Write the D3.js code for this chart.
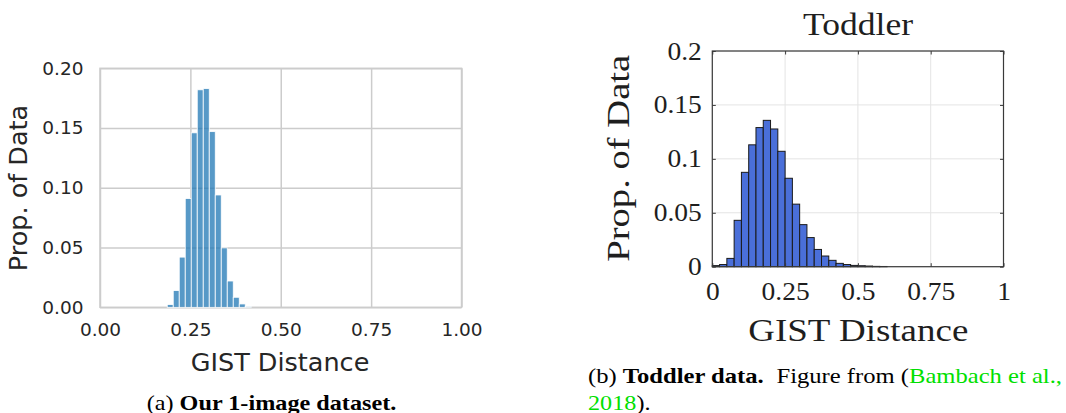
<!DOCTYPE html>
<html>
<head>
<meta charset="utf-8">
<script src="https://cdn.jsdelivr.net/npm/d3@7"></script>
<style>
  html, body { margin: 0; padding: 0; background: #fff; }
  svg { display: block; }
</style>
</head>
<body>
<svg id="fig" width="1066" height="413"></svg>
<script>
// ---- (a) our 1-image dataset (seaborn style histogram) ----
const edgesA = [0.186, 0.2026, 0.2192, 0.2358, 0.2524, 0.269, 0.2856, 0.3022,
                0.3188, 0.3354, 0.352, 0.3686, 0.3852, 0.4018, 0.4184];
const propA = [0.0023, 0.014, 0.042, 0.091, 0.146, 0.182, 0.183, 0.147,
               0.094, 0.0497, 0.022, 0.0084, 0.0028, 0.0008];
const xTicksA = [0, 0.25, 0.5, 0.75, 1];
const xLabelsA = ["0.00", "0.25", "0.50", "0.75", "1.00"];
const yTicksA = [0, 0.05, 0.1, 0.15, 0.2];
const yLabelsA = ["0.00", "0.05", "0.10", "0.15", "0.20"];

// ---- (b) toddler data (matlab style histogram) ----
const edgesB = [0, 0.025, 0.05, 0.075, 0.1, 0.125, 0.15, 0.175, 0.2, 0.225, 0.25,
                0.275, 0.3, 0.325, 0.35, 0.375, 0.4, 0.425, 0.45, 0.475, 0.5,
                0.525, 0.55, 0.575, 0.6];
const propB = [0.001, 0.002, 0.0077, 0.043, 0.0875, 0.113, 0.129, 0.1357,
               0.1277, 0.107, 0.082, 0.058, 0.039, 0.027, 0.016, 0.0099,
               0.0059, 0.0031, 0.002, 0.0012, 0.0009, 0.0006, 0.0003, 0.0002];
const xTicksB = [0, 0.25, 0.5, 0.75, 1];
const xLabelsB = ["0", "0.25", "0.5", "0.75", "1"];
const yTicksB = [0, 0.05, 0.1, 0.15, 0.2];
const yLabelsB = ["0", "0.05", "0.1", "0.15", "0.2"];

const svg = d3.select("#fig");
svg.append("rect").attr("width", 1066).attr("height", 413).attr("fill", "#fff");

const sans = "'DejaVu Sans', sans-serif";
const serif = "'Liberation Serif', 'Times New Roman', serif";

// widen serif text a bit so it looks closer to the wider original
function stretch(sel, k) {
    sel.each(function() {
        const w = this.getComputedTextLength();
        d3.select(this).attr("textLength", w * k).attr("lengthAdjust", "spacingAndGlyphs");
    });
}

/* ================= panel (a) ================= */
const xA = d3.scaleLinear().domain([0, 1]).range([100, 461.5]);
const yA = d3.scaleLinear().domain([0, 0.2]).range([307.3, 68.3]);
const gA = svg.append("g");

// grid + tick labels through the axes
const axYA = gA.append("g")
    .attr("transform", `translate(${xA(0)},0)`)
    .call(d3.axisLeft(yA).tickValues(yTicksA)
        .tickFormat((d, i) => yLabelsA[i])
        .tickSize(-(xA(1) - xA(0))).tickPadding(16.5));
const axXA = gA.append("g")
    .attr("transform", `translate(0,${yA(0)})`)
    .call(d3.axisBottom(xA).tickValues(xTicksA)
        .tickFormat((d, i) => xLabelsA[i])
        .tickSize(-(yA(0) - yA(0.2))).tickPadding(16));
[axYA, axXA].forEach(ax => {
    ax.select(".domain").remove();
    ax.selectAll(".tick line").attr("stroke", "#cccccc").attr("stroke-width", 1.5);
    ax.selectAll(".tick text")
        .attr("fill", "#262626")
        .style("font-family", sans)
        .style("font-size", "18.5px");
});

gA.append("rect")
    .attr("x", xA(0)).attr("y", yA(0.2))
    .attr("width", xA(1) - xA(0)).attr("height", yA(0) - yA(0.2))
    .attr("fill", "none").attr("stroke", "#cccccc").attr("stroke-width", 1.5);

gA.selectAll("rect.bar")
    .data(propA)
    .enter()
    .append("rect")
    .attr("class", "bar")
    .attr("x", (d, i) => xA(edgesA[i]))
    .attr("width", (d, i) => xA(edgesA[i + 1]) - xA(edgesA[i]))
    .attr("y", d => yA(d))
    .attr("height", d => yA(0) - yA(d))
    .attr("fill", "rgba(31,119,180,0.75)")
    .attr("stroke", "#fff")
    .attr("stroke-width", 0.8);

gA.append("text")
    .attr("x", 280).attr("y", 371)
    .attr("text-anchor", "middle")
    .attr("fill", "#262626")
    .style("font-family", sans).style("font-size", "25.5px")
    .text("GIST Distance");

gA.append("text")
    .attr("transform", "translate(27,188) rotate(-90)")
    .attr("text-anchor", "middle")
    .attr("fill", "#262626")
    .style("font-family", sans).style("font-size", "25.5px")
    .text("Prop. of Data");

const capA = gA.append("text")
    .attr("x", 271.5).attr("y", 409.5)
    .attr("text-anchor", "middle")
    .style("font-family", serif).style("font-size", "22px")
    .attr("fill", "#000");
capA.append("tspan").text("(a) ");
capA.append("tspan").attr("font-weight", "bold").text("Our 1-image dataset.");
stretch(capA, 1.1);

/* ================= panel (b) ================= */
const xB = d3.scaleLinear().domain([0, 1]).range([712.3, 1003.5]);
const yB = d3.scaleLinear().domain([0, 0.2]).range([266.7, 51]);
const gB = svg.append("g");

// light grid
gB.selectAll("line.gx").data(xTicksB).enter().append("line")
    .attr("x1", d => xB(d)).attr("x2", d => xB(d))
    .attr("y1", yB(0)).attr("y2", yB(0.2))
    .attr("stroke", "#e4e4e4").attr("stroke-width", 1);
gB.selectAll("line.gy").data(yTicksB).enter().append("line")
    .attr("x1", xB(0)).attr("x2", xB(1))
    .attr("y1", d => yB(d)).attr("y2", d => yB(d))
    .attr("stroke", "#e4e4e4").attr("stroke-width", 1);

gB.selectAll("rect.bar")
    .data(propB)
    .enter()
    .append("rect")
    .attr("class", "bar")
    .attr("x", (d, i) => xB(edgesB[i]))
    .attr("width", (d, i) => xB(edgesB[i + 1]) - xB(edgesB[i]))
    .attr("y", d => yB(d))
    .attr("height", d => yB(0) - yB(d))
    .attr("fill", "#4a6fd9")
    .attr("stroke", "#1a1a1a")
    .attr("stroke-width", 1);

// box, inward ticks on all four sides
gB.append("rect")
    .attr("x", xB(0)).attr("y", yB(0.2))
    .attr("width", xB(1) - xB(0)).attr("height", yB(0) - yB(0.2))
    .attr("fill", "none").attr("stroke", "#3a3a3a").attr("stroke-width", 1.2);

const axXB = gB.append("g")
    .attr("transform", `translate(0,${yB(0)})`)
    .call(d3.axisBottom(xB).tickValues(xTicksB)
        .tickFormat((d, i) => xLabelsB[i])
        .tickSizeInner(-3.5).tickSizeOuter(0).tickPadding(15.5));
const axXBtop = gB.append("g")
    .attr("transform", `translate(0,${yB(0.2)})`)
    .call(d3.axisTop(xB).tickValues(xTicksB).tickFormat("")
        .tickSizeInner(-3.5).tickSizeOuter(0));
const axYB = gB.append("g")
    .attr("transform", `translate(${xB(0)},0)`)
    .call(d3.axisLeft(yB).tickValues(yTicksB)
        .tickFormat((d, i) => yLabelsB[i])
        .tickSizeInner(-3.5).tickSizeOuter(0).tickPadding(10.5));
const axYBright = gB.append("g")
    .attr("transform", `translate(${xB(1)},0)`)
    .call(d3.axisRight(yB).tickValues(yTicksB).tickFormat("")
        .tickSizeInner(-3.5).tickSizeOuter(0));
[axXB, axXBtop, axYB, axYBright].forEach(ax => {
    ax.select(".domain").remove();
    ax.selectAll(".tick line").attr("stroke", "#3a3a3a").attr("stroke-width", 1);
    ax.selectAll(".tick text")
        .attr("fill", "#1e1e1e")
        .style("font-family", serif)
        .style("font-size", "25px");
});
stretch(axXB.selectAll(".tick text"), 1.1);
stretch(axYB.selectAll(".tick text"), 1.1);

gB.append("text")
    .attr("x", 858).attr("y", 35)
    .attr("text-anchor", "middle")
    .attr("fill", "#1e1e1e")
    .style("font-family", serif).style("font-size", "31.5px")
    .text("Toddler")
    .attr("textLength", 110).attr("lengthAdjust", "spacingAndGlyphs");

gB.append("text")
    .attr("x", 858.3).attr("y", 341)
    .attr("text-anchor", "middle")
    .attr("fill", "#1e1e1e")
    .style("font-family", serif).style("font-size", "32.5px")
    .text("GIST Distance")
    .attr("textLength", 220).attr("lengthAdjust", "spacingAndGlyphs");

gB.append("text")
    .attr("transform", "translate(629,158.3) rotate(-90)")
    .attr("text-anchor", "middle")
    .attr("fill", "#1e1e1e")
    .style("font-family", serif).style("font-size", "31px")
    .text("Prop. of Data")
    .attr("textLength", 207).attr("lengthAdjust", "spacingAndGlyphs");

// caption (b), first line justified to the column width
const green = "#00e000";
const cap1 = gB.append("text")
    .attr("x", 588).attr("y", 383)
    .style("font-family", serif).style("font-size", "22px")
    .attr("fill", "#000");
cap1.append("tspan").text("(b) ");
cap1.append("tspan").attr("font-weight", "bold").text("Toddler data.");
cap1.append("tspan").attr("dx", 6).text(" Figure from (");
cap1.append("tspan").attr("fill", green).text("Bambach et al.,");
cap1.attr("textLength", 474).attr("lengthAdjust", "spacingAndGlyphs");

const cap2 = gB.append("text")
    .attr("x", 588).attr("y", 409.5)
    .style("font-family", serif).style("font-size", "22px")
    .attr("fill", "#000");
cap2.append("tspan").attr("fill", green).text("2018");
cap2.append("tspan").text(").");
stretch(cap2, 1.1);
</script>
</body>
</html>
